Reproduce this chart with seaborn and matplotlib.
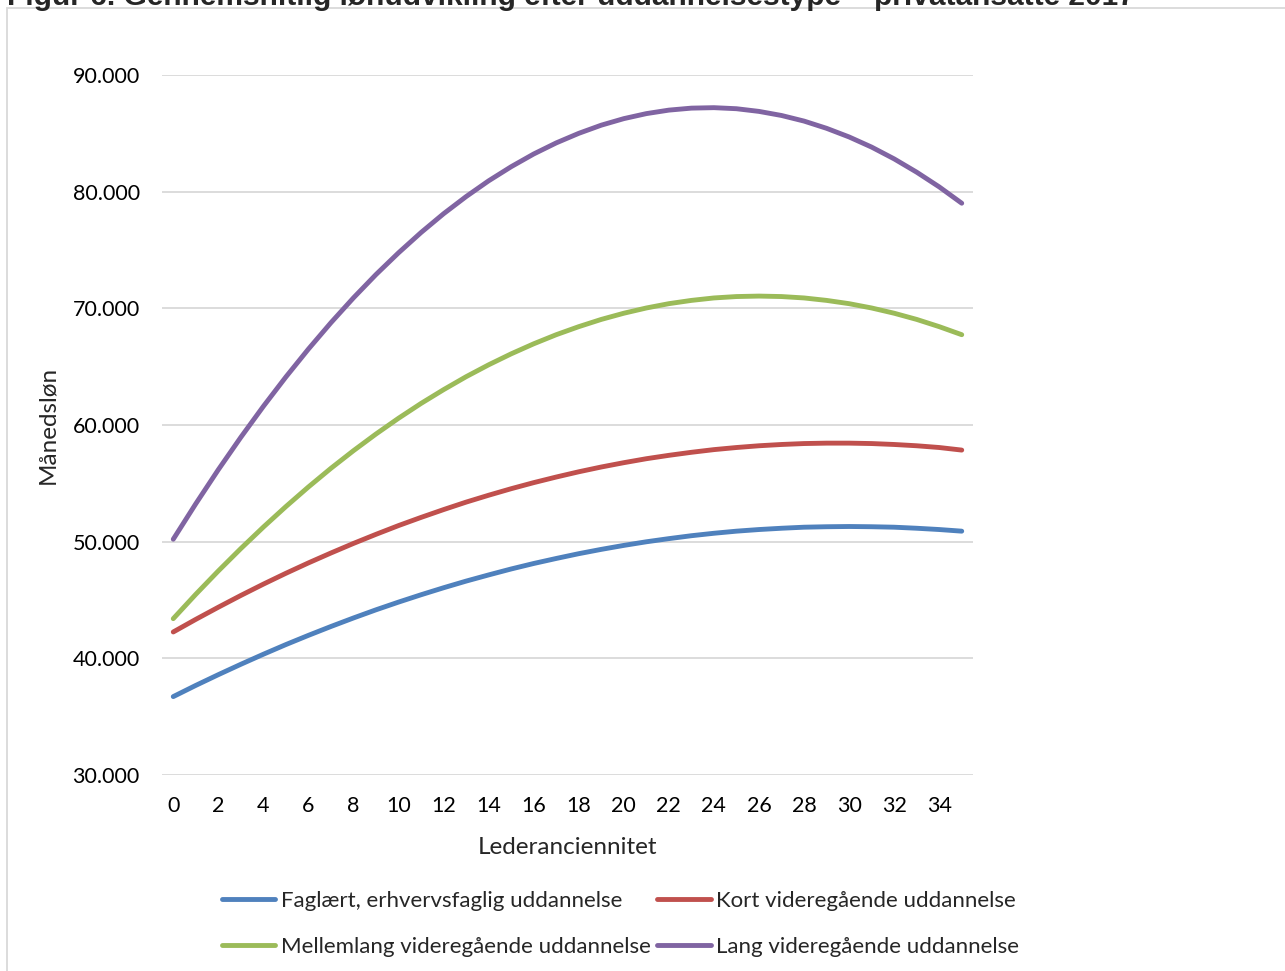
import matplotlib
matplotlib.use("Agg")
import matplotlib.pyplot as plt
import seaborn as sns
import pandas as pd
from matplotlib.patches import Rectangle
from matplotlib.lines import Line2D

# ---- data ----
years = list(range(0, 36))
faglaert = [36720, 37680, 38600, 39490, 40350, 41180, 41970, 42730, 43460, 44160,
            44820, 45450, 46050, 46620, 47150, 47660, 48130, 48560, 48970, 49340,
            49680, 49990, 50260, 50510, 50720, 50900, 51040, 51150, 51240, 51280,
            51300, 51280, 51240, 51150, 51040, 50900]
kort = [42260, 43340, 44380, 45390, 46360, 47290, 48180, 49030, 49850, 50630,
        51380, 52080, 52750, 53390, 53980, 54540, 55060, 55540, 55990, 56400,
        56770, 57110, 57400, 57660, 57890, 58070, 58220, 58330, 58410, 58445,
        58445, 58410, 58330, 58220, 58070, 57850]
mellemlang = [43400, 45490, 47490, 49410, 51250, 53010, 54690, 56290, 57800, 59230,
              60580, 61850, 63030, 64140, 65160, 66100, 66960, 67740, 68430, 69050,
              69580, 70030, 70400, 70680, 70890, 71010, 71050, 71010, 70890, 70680,
              70400, 70030, 69580, 69050, 68430, 67740]
lang = [50210, 53250, 56170, 58950, 61600, 64120, 66510, 68770, 70900, 72900,
        74760, 76500, 78110, 79580, 80930, 82140, 83230, 84180, 85000, 85700,
        86260, 86690, 86990, 87160, 87200, 87110, 86880, 86530, 86050, 85430,
        84690, 83820, 82810, 81670, 80410, 79010]

series_names = ["Faglært, erhvervsfaglig uddannelse", "Kort videregående uddannelse",
                "Mellemlang videregående uddannelse", "Lang videregående uddannelse"]
series_values = [faglaert, kort, mellemlang, lang]
colors = ["#4F81BD", "#C0504D", "#9BBB59", "#8064A2"]

xticks = list(range(0, 35, 2))
yticks = [30000, 40000, 50000, 60000, 70000, 80000, 90000]
ytick_labels = ["30.000", "40.000", "50.000", "60.000", "70.000", "80.000", "90.000"]

title = "Figur 6. Gennemsnitlig lønudvikling efter uddannelsestype – privatansatte 2017"
xlabel = "Lederanciennitet"
ylabel = "Månedsløn"

rows = []
for name, vals in zip(series_names, series_values):
    for x, v in zip(years, vals):
        rows.append({"x": x, "y": v, "serie": name})
df = pd.DataFrame(rows)

sns.set_style("white")
plt.rcParams["font.family"] = ["Lato", "DejaVu Sans"]

fig = plt.figure(figsize=(12.85, 9.71), dpi=100)
ax = fig.add_axes([162 / 1285, 1 - 775 / 971, (973 - 162) / 1285, (775 - 75) / 971])

sns.lineplot(data=df, x="x", y="y", hue="serie", hue_order=series_names,
             palette=colors, linewidth=3.5, ax=ax, legend=False,
             solid_capstyle="round")

ax.set_xlim(-0.5, 35.5)
ax.set_ylim(30000, 90000)
ax.set_xticks(xticks)
ax.set_xticklabels([str(t) for t in xticks])
ax.set_yticks(yticks)
ax.set_yticklabels(ytick_labels)
ax.tick_params(axis="both", length=0, labelsize=15.5, colors="#000000")
ax.tick_params(axis="y", pad=16)
ax.tick_params(axis="x", pad=15)
ax.grid(axis="y", color="#d9d9d9", linewidth=1.3)
ax.grid(axis="x", visible=False)
ax.set_axisbelow(True)
for s in ax.spines.values():
    s.set_visible(False)

ax.set_xlabel(xlabel, fontsize=17.5, labelpad=15)
ax.set_ylabel(ylabel, fontsize=17.5, labelpad=10)

# legend (row-wise order like the reference)
handles = [Line2D([], [], color=c, linewidth=3.5) for c in colors]
order = [0, 2, 1, 3]
fig.legend([handles[i] for i in order], [series_names[i] for i in order],
           ncol=2, loc="upper left", bbox_to_anchor=(222 / 1285, 1 - 891 / 971),
           frameon=False, fontsize=16, handlelength=2.4, handletextpad=0.25,
           columnspacing=0.3, labelspacing=1.15, borderpad=0, borderaxespad=0)

# outer chart border
fig.patches.append(Rectangle((7 / 1285, -0.01), 1.1, 1 - 8 / 971 + 0.01,
                             transform=fig.transFigure, fill=False,
                             edgecolor="#d9d9d9", linewidth=1.3))

# title (partly cut off at the top, as in the reference)
fig.text(7 / 1285, 1 - 5 / 971, title, fontsize=21.5, fontweight="bold",
         family=["Liberation Sans", "DejaVu Sans"], va="baseline", ha="left")

fig.savefig("out.png", dpi=100, facecolor="white")
